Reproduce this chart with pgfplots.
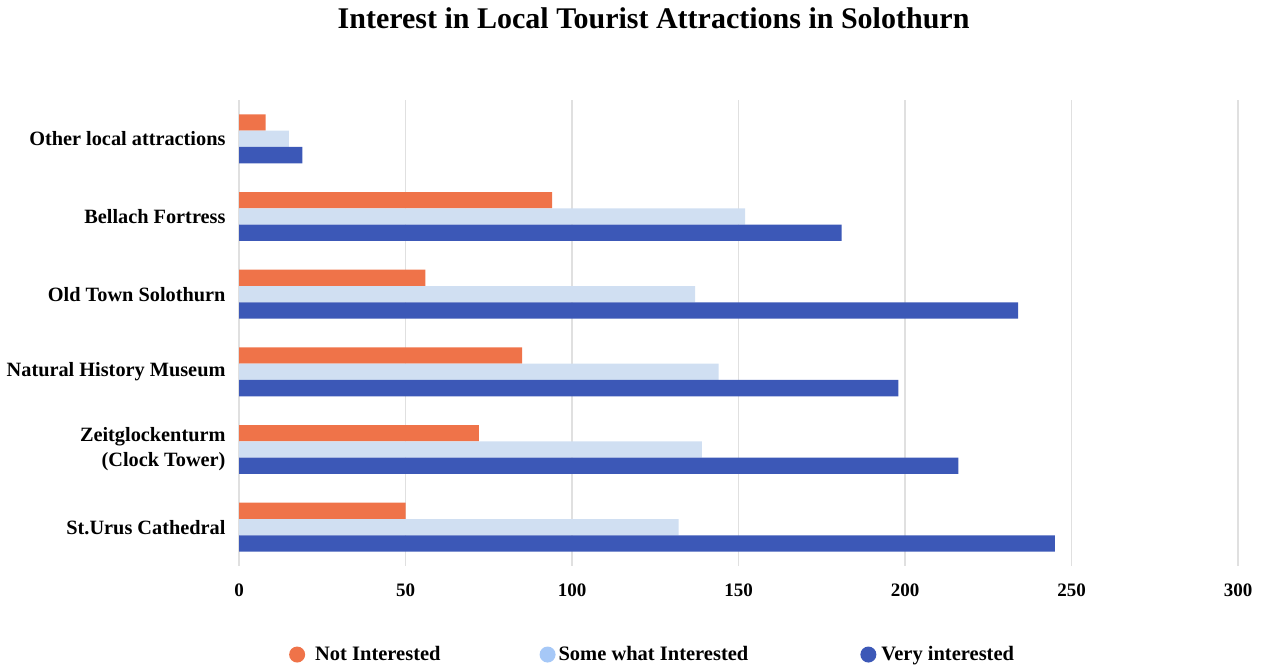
\documentclass[border=0pt]{standalone}
\usepackage{pgfplots}
\pgfplotsset{compat=1.18}
\usepackage{fontspec}
\setmainfont{Liberation Serif}
\definecolor{cNot}{HTML}{EF7349}
\definecolor{cSome}{HTML}{D0DFF2}
\definecolor{cSomeL}{HTML}{A6C8F7}
\definecolor{cVery}{HTML}{3C58B7}
\begin{document}
\begin{tikzpicture}
\useasboundingbox (0pt,0pt) rectangle (1268pt,666pt);
\begin{axis}[
  at={(239pt,100pt)}, anchor=south west,
  scale only axis, width=999pt, height=466pt,
  xmin=0, xmax=300, ymin=-0.5, ymax=5.5,
  xtick={0,50,...,300},
  ytick={0,1,2,3,4,5},
  yticklabels={St.Urus Cathedral,{Zeitglockenturm\\(Clock Tower)},Natural History Museum,Old Town Solothurn,Bellach Fortress,Other local attractions},
  /pgf/number format/assume math mode=true,
  axis line style={draw=none},
  major tick length=0pt,
  tick style={draw=none},
  xmajorgrids,
  major grid style={draw=black!12, line width=1.3pt},
  xticklabel style={font=\fontsize{19}{21}\selectfont\bfseries},
  xticklabel shift=14pt,
  yticklabel style={font=\fontsize{20.3}{25}\selectfont\bfseries, align=right},
  yticklabel shift=10pt,
  title={Interest in Local Tourist Attractions in Solothurn},
  title style={font=\fontsize{30}{36}\selectfont\bfseries, at={(0.415,1.163)}, anchor=center},
  legend style={at={(0.047,-0.19)}, anchor=west, draw=none, fill=none,
    font=\fontsize{20.5}{24}\selectfont\bfseries,
    /tikz/every even column/.append style={column sep=97pt}},
  legend columns=3,
  bar width=0.21,
]
\addplot[xbar, bar shift=0.21, fill=cNot, draw=none,
  legend image code/.code={\fill[cNot] (0pt,0pt) circle (8pt); \path (16pt,0pt);}]
  coordinates {(50,0) (72,1) (85,2) (56,3) (94,4) (8,5)};
\addlegendentry{Not Interested}
\addplot[xbar, bar shift=0, fill=cSome, draw=none,
  legend image code/.code={\fill[cSomeL] (0pt,0pt) circle (8pt); \path (9pt,0pt);}]
  coordinates {(132,0) (139,1) (144,2) (137,3) (152,4) (15,5)};
\addlegendentry{Some what Interested}
\addplot[xbar, bar shift=-0.21, fill=cVery, draw=none,
  legend image code/.code={\fill[cVery] (0pt,0pt) circle (8pt); \path (11pt,0pt); \path (-21pt,0pt);}]
  coordinates {(245,0) (216,1) (198,2) (234,3) (181,4) (19,5)};
\addlegendentry{Very interested}
\end{axis}
\end{tikzpicture}
\end{document}
